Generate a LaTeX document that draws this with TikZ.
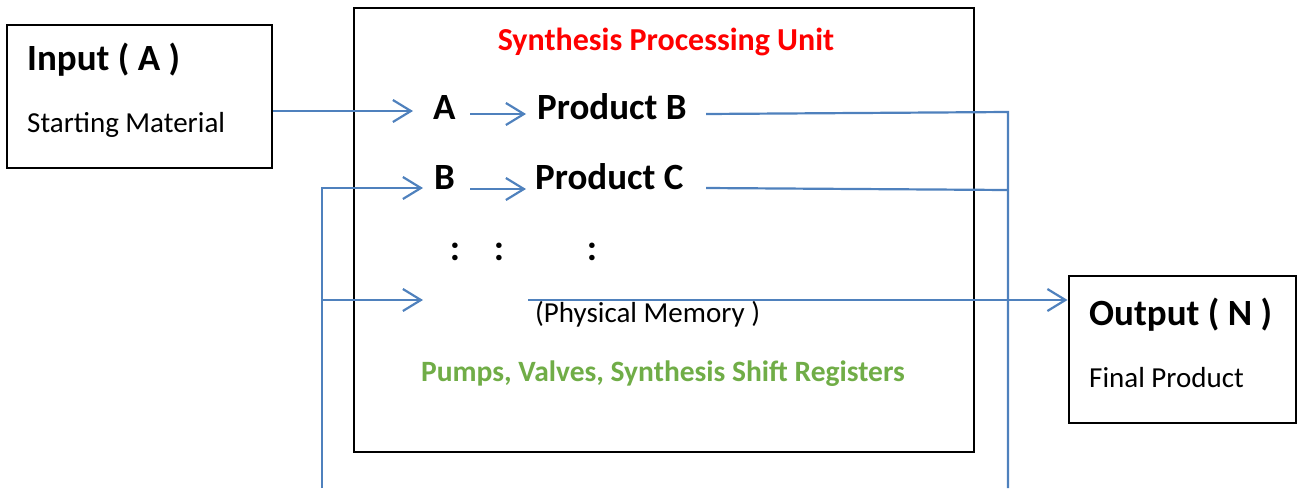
\documentclass[tikz,border=0pt]{standalone}
\usepackage{fontspec}
\setmainfont{Carlito}
\usepackage{xcolor}
\usepackage{tikz}
\usetikzlibrary{arrows.meta}
\usetikzlibrary{positioning}
\definecolor{lineblue}{RGB}{79,129,189}
\definecolor{titlered}{RGB}{255,0,0}
\definecolor{notegreen}{RGB}{112,173,71}
\tikzset{
    boxn/.style = {rectangle, draw=black, line width=2pt, inner sep=0pt},
    bigt/.style = {anchor=base west, inner sep=0pt, font=\fontsize{37}{44}\selectfont\bfseries},
    smallt/.style = {anchor=base west, inner sep=0pt, font=\fontsize{29}{35}\selectfont},
}

\begin{document}
\begin{tikzpicture}[
    x=1pt, y=-1pt
]
\tikzset{
    arr/.style = {-{Straight Barb[length=18pt,width=22pt]}, line width=2.2pt, draw=lineblue},
    wire/.style = {-, line width=2.2pt, draw=lineblue}
}
\useasboundingbox (0,0) rectangle (1297,488);
% boxes
\node[boxn, minimum width=265pt, minimum height=143pt] at (139.5,96.5) (inp) {};
\node[boxn, minimum width=620pt, minimum height=444pt] at (664,230) (spu) {};
\node[boxn, minimum width=227pt, minimum height=147pt] at (1182,349) (outp) {};
% texts
\node[bigt] at (27,70) (inpt) {Input ( A )};
\node[smallt] at (27,132) (inps) {Starting Material};
\node[anchor=base, inner sep=0pt, font=\fontsize{32}{38}\selectfont\bfseries, text=titlered] at (666,50) (title) {Synthesis Processing Unit};
\node[bigt] at (433,119) (a) {A};
\node[bigt] at (537,119) (pb) {Product B};
\node[bigt] at (434,189) (b) {B};
\node[bigt] at (535,189) (pc) {Product C};
\node[bigt, anchor=base] at (455,260) (c1) {:};
\node[bigt, anchor=base] at (499,260) (c2) {:};
\node[bigt, anchor=base] at (592,260) (c3) {:};
\node[smallt] at (535,322) (mem) {(Physical Memory )};
\node[anchor=base, inner sep=0pt, font=\fontsize{29.5}{35}\selectfont\bfseries, text=notegreen] at (663,381) (note) {Pumps, Valves, Synthesis Shift Registers};
\node[bigt] at (1089,325) (outt) {Output ( N )};
\node[smallt] at (1089,387) (outs) {Final Product};
% connector ends
\coordinate (atip) at (413,111);
\coordinate (btip) at (423,188);
\coordinate (lbot) at (322,488);
\coordinate (ltop) at (322,188);
\coordinate (lmem) at (322,300);
\coordinate (mtip) at (423,300);
\coordinate (mstart) at (528,300);
\coordinate (pbend) at (706,114);
\coordinate (pcend) at (706,188);
\coordinate (rtop) at (1008,112);
\coordinate (rmid) at (1008,190);
\coordinate (rbot) at (1008,488);
% connectors
\draw[arr] (inp.east |- atip) -- (atip);
\draw[arr] (470,114) -- (526,114);
\draw[arr] (470,189) -- (526,189);
\draw[arr] (lbot) -- (ltop) -- (btip);
\draw[arr] (lmem) -- (mtip);
\draw[arr] (mstart) -- (outp.west |- mstart);
\draw[wire] (pbend) -- (rtop) -- (rbot);
\draw[wire] (pcend) -- (rmid);
\end{tikzpicture}
\end{document}
